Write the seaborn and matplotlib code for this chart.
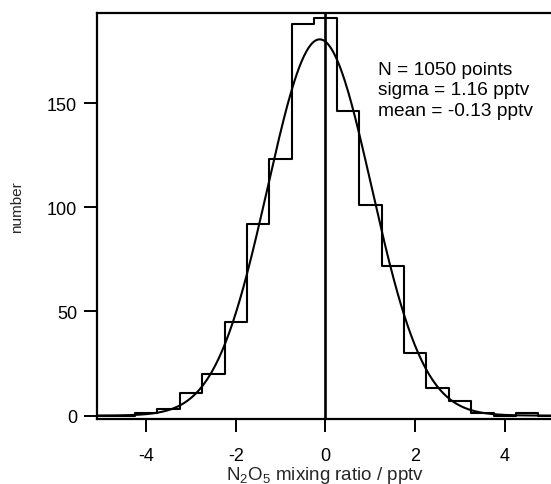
import numpy as np
import pandas as pd
import matplotlib
matplotlib.use("Agg")
import matplotlib.pyplot as plt
import seaborn as sns

# ---- data ----
bin_centers = [-5.0, -4.5, -4.0, -3.5, -3.0, -2.5, -2.0, -1.5, -1.0, -0.5, 0.0,
               0.5, 1.0, 1.5, 2.0, 2.5, 3.0, 3.5, 4.0, 4.5, 5.0]
bin_counts = [0, 0, 1, 3, 11, 20, 45, 92, 123, 188, 191,
              146, 101, 72, 30, 13, 7, 1, 0, 1, 0]
bin_width = 0.5
fit_n = 1050
fit_sigma = 1.16
fit_mean = -0.13
x_ticks = [-4, -2, 0, 2, 4]
y_ticks = [0, 50, 100, 150]
annot_lines = ["N = 1050 points", "sigma = 1.16 pptv", "mean = -0.13 pptv"]

sns.set_style("ticks")
plt.rcParams['font.family'] = ['Liberation Sans', 'DejaVu Sans']
plt.rcParams['mathtext.fontset'] = 'custom'
plt.rcParams['mathtext.rm'] = 'Liberation Sans'
plt.rcParams['mathtext.it'] = 'Liberation Sans:italic'

W, H = 551, 485
fig = plt.figure(figsize=(W / 100, H / 100), dpi=100)
L, R, T, B = 97.3, 551, 14, 419.5
ax = fig.add_axes([L / W, 1 - B / H, (R - L) / W, (B - T) / H])

edges = [float(c - bin_width / 2) for c in bin_centers] + [bin_centers[-1] + bin_width / 2]
hist_df = pd.DataFrame({"x": bin_centers, "w": bin_counts})
sns.histplot(data=hist_df, x="x", weights="w", bins=edges, element="step",
             fill=False, color="black", linewidth=1.5, ax=ax)

# Gaussian fit curve from the annotated fit parameters
xs = np.linspace(-5.2, 5.2, 400)
amp = fit_n * bin_width / (fit_sigma * np.sqrt(2 * np.pi))
ys = amp * np.exp(-(xs - fit_mean) ** 2 / (2 * fit_sigma ** 2))
sns.lineplot(x=xs, y=ys, color="black", linewidth=1.5, ax=ax)

ax.axvline(0, color="black", linewidth=1.9)

ax.set_xlim(-5.09, 5.03)
ax.set_ylim(-1.4, 193.2)
ax.set_xticks(x_ticks)
ax.set_yticks(y_ticks)
ax.set_xticklabels([str(v) for v in x_ticks])
ax.tick_params(axis="both", direction="out", length=9.6, width=1.4,
               labelsize=13, color="black", labelcolor="black")
ax.tick_params(axis="y", pad=5)
ax.tick_params(axis="x", pad=11)
for s in ["left", "bottom", "top"]:
    ax.spines[s].set_visible(True)
    ax.spines[s].set_linewidth(1.6)
    ax.spines[s].set_color("black")
ax.spines["right"].set_visible(False)

ax.set_xlabel(r"N$_\mathrm{2}$O$_\mathrm{5}$ mixing ratio / pptv", fontsize=13.5)
ax.xaxis.set_label_coords((325.5 - L) / (R - L), (B - 480.5) / (B - T))
ax.xaxis.label.set_va("baseline")
ax.set_ylabel("number", fontsize=11)
ax.yaxis.set_label_coords((17 - L) / (R - L), (B - 207) / (B - T))
ax.yaxis.label.set_va("center")

for line, yb in zip(annot_lines, [75, 95.5, 116]):
    ax.text((378 - L) / (R - L), (B - yb) / (B - T), line, transform=ax.transAxes,
            fontsize=13.8, va="baseline", ha="left", color="black")

fig.savefig("out.png", dpi=100)
